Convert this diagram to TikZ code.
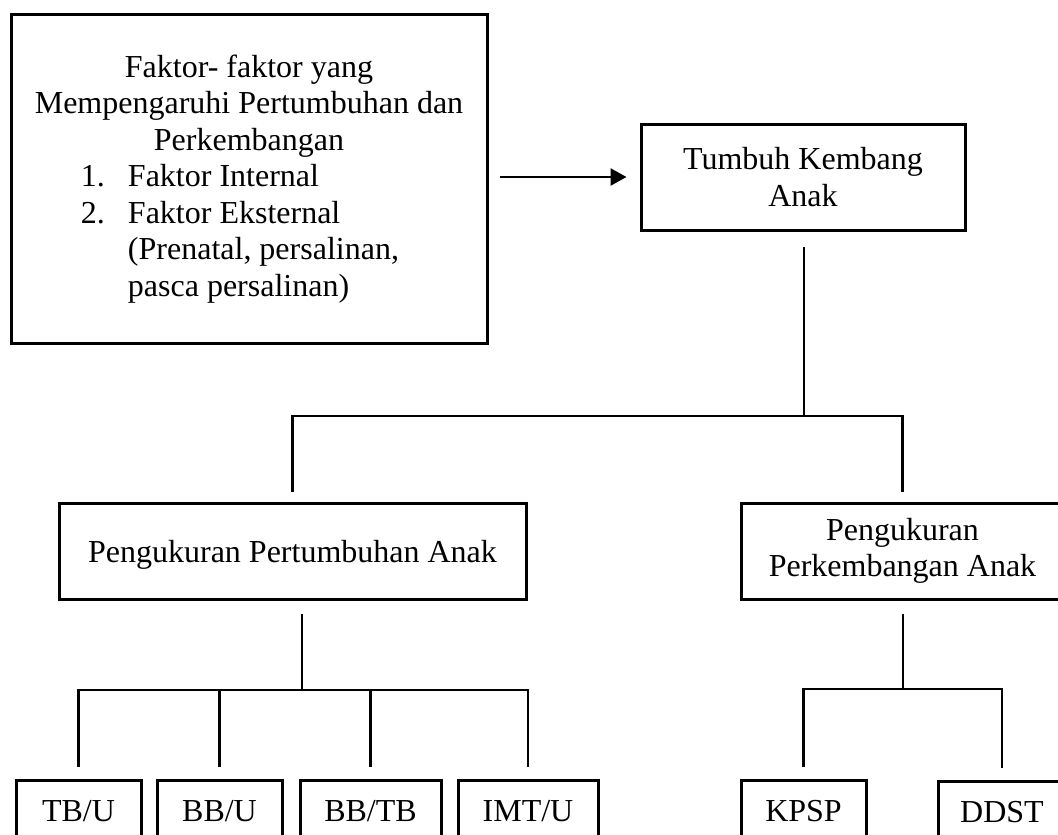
\documentclass[tikz,border=0pt]{standalone}
\usepackage{fontspec}
\setmainfont{Liberation Serif}
\usetikzlibrary{arrows.meta, positioning, calc}
\newcommand{\listline}[2]{\makebox[336pt][l]{\makebox[47pt][l]{#1}#2}}

\begin{document}
\begin{tikzpicture}[x=1pt, y=-1pt,
  box/.style={draw, line width=3pt, align=center, inner sep=0pt,
    font=\fontsize{32}{36.5}\selectfont},
  conn/.style={line width=2.4pt}]
  \useasboundingbox (0,0) rectangle (1058,835);

  % Top boxes
  \node[box, minimum width=476, minimum height=329] (faktor) at (249,179)
    {Faktor- faktor yang\\
     Mempengaruhi Pertumbuhan dan\\
     Perkembangan\\
     \listline{1.}{Faktor Internal}\\
     \listline{2.}{Faktor Eksternal}\\
     \listline{}{(Prenatal, persalinan,}\\
     \listline{}{pasca persalinan)}};
  \node[box, minimum width=324, minimum height=106] (tumbuh) at (803,177)
    {Tumbuh Kembang\\Anak};

  % Middle boxes
  \node[box, minimum width=467, minimum height=96, text depth=0pt] (pertumbuhan) at (292.5,551)
    {Pengukuran Pertumbuhan Anak};
  \node[box, minimum width=323, minimum height=96] (perkembangan) at (902.5,551)
    {Pengukuran\\Perkembangan Anak};

  % Bottom boxes (cut by the page edge)
  \node[box, minimum width=125, minimum height=62, text depth=0pt] (tbu) at (78.5,811) {TB/U};
  \node[box, minimum width=125, minimum height=62, text depth=0pt] (bbu) at (219.5,811) {BB/U};
  \node[box, minimum width=141, minimum height=62, text depth=0pt] (bbtb) at (370.5,811) {BB/TB};
  \node[box, minimum width=140, minimum height=62, text depth=0pt] (imtu) at (528,811) {IMT/U};
  \node[box, minimum width=125, minimum height=62, text depth=0pt] (kpsp) at (803.5,811) {KPSP};
  \node[box, minimum width=128, minimum height=62, text depth=0pt] (ddst) at (1002,812) {DDST};

  % Arrow to Tumbuh Kembang
  \draw[conn, -{Triangle[length=16pt, width=17pt]}, shorten <=11pt, shorten >=13pt]
    (faktor.east |- tumbuh.west) -- (tumbuh.west);

  % Branch from Tumbuh Kembang
  \coordinate (hubtop) at (804,416);
  \draw[conn, shorten <=15pt] (tumbuh.south -| hubtop) -- (hubtop);
  \draw[conn, shorten <=10pt, shorten >=10pt]
    (pertumbuhan.north) |- (hubtop) -| (perkembangan.north);

  % Branch from Pengukuran Pertumbuhan
  \coordinate (hubleft) at (302,690);
  \draw[conn, shorten <=13pt] (pertumbuhan.south -| hubleft) -- (hubleft);
  \draw[conn, shorten >=12pt] (hubleft) -| (tbu.north);
  \draw[conn, shorten >=12pt] (hubleft) -| (bbu.north);
  \draw[conn, shorten >=12pt] (hubleft) -| (bbtb.north);
  \draw[conn, shorten >=12pt] (hubleft) -| (imtu.north);

  % Branch from Pengukuran Perkembangan
  \coordinate (hubright) at (903,689);
  \draw[conn, shorten <=13pt] (perkembangan.south -| hubright) -- (hubright);
  \draw[conn, shorten >=12pt] (hubright) -| (kpsp.north);
  \draw[conn, shorten >=12pt] (hubright) -| (ddst.north);
\end{tikzpicture}
\end{document}
